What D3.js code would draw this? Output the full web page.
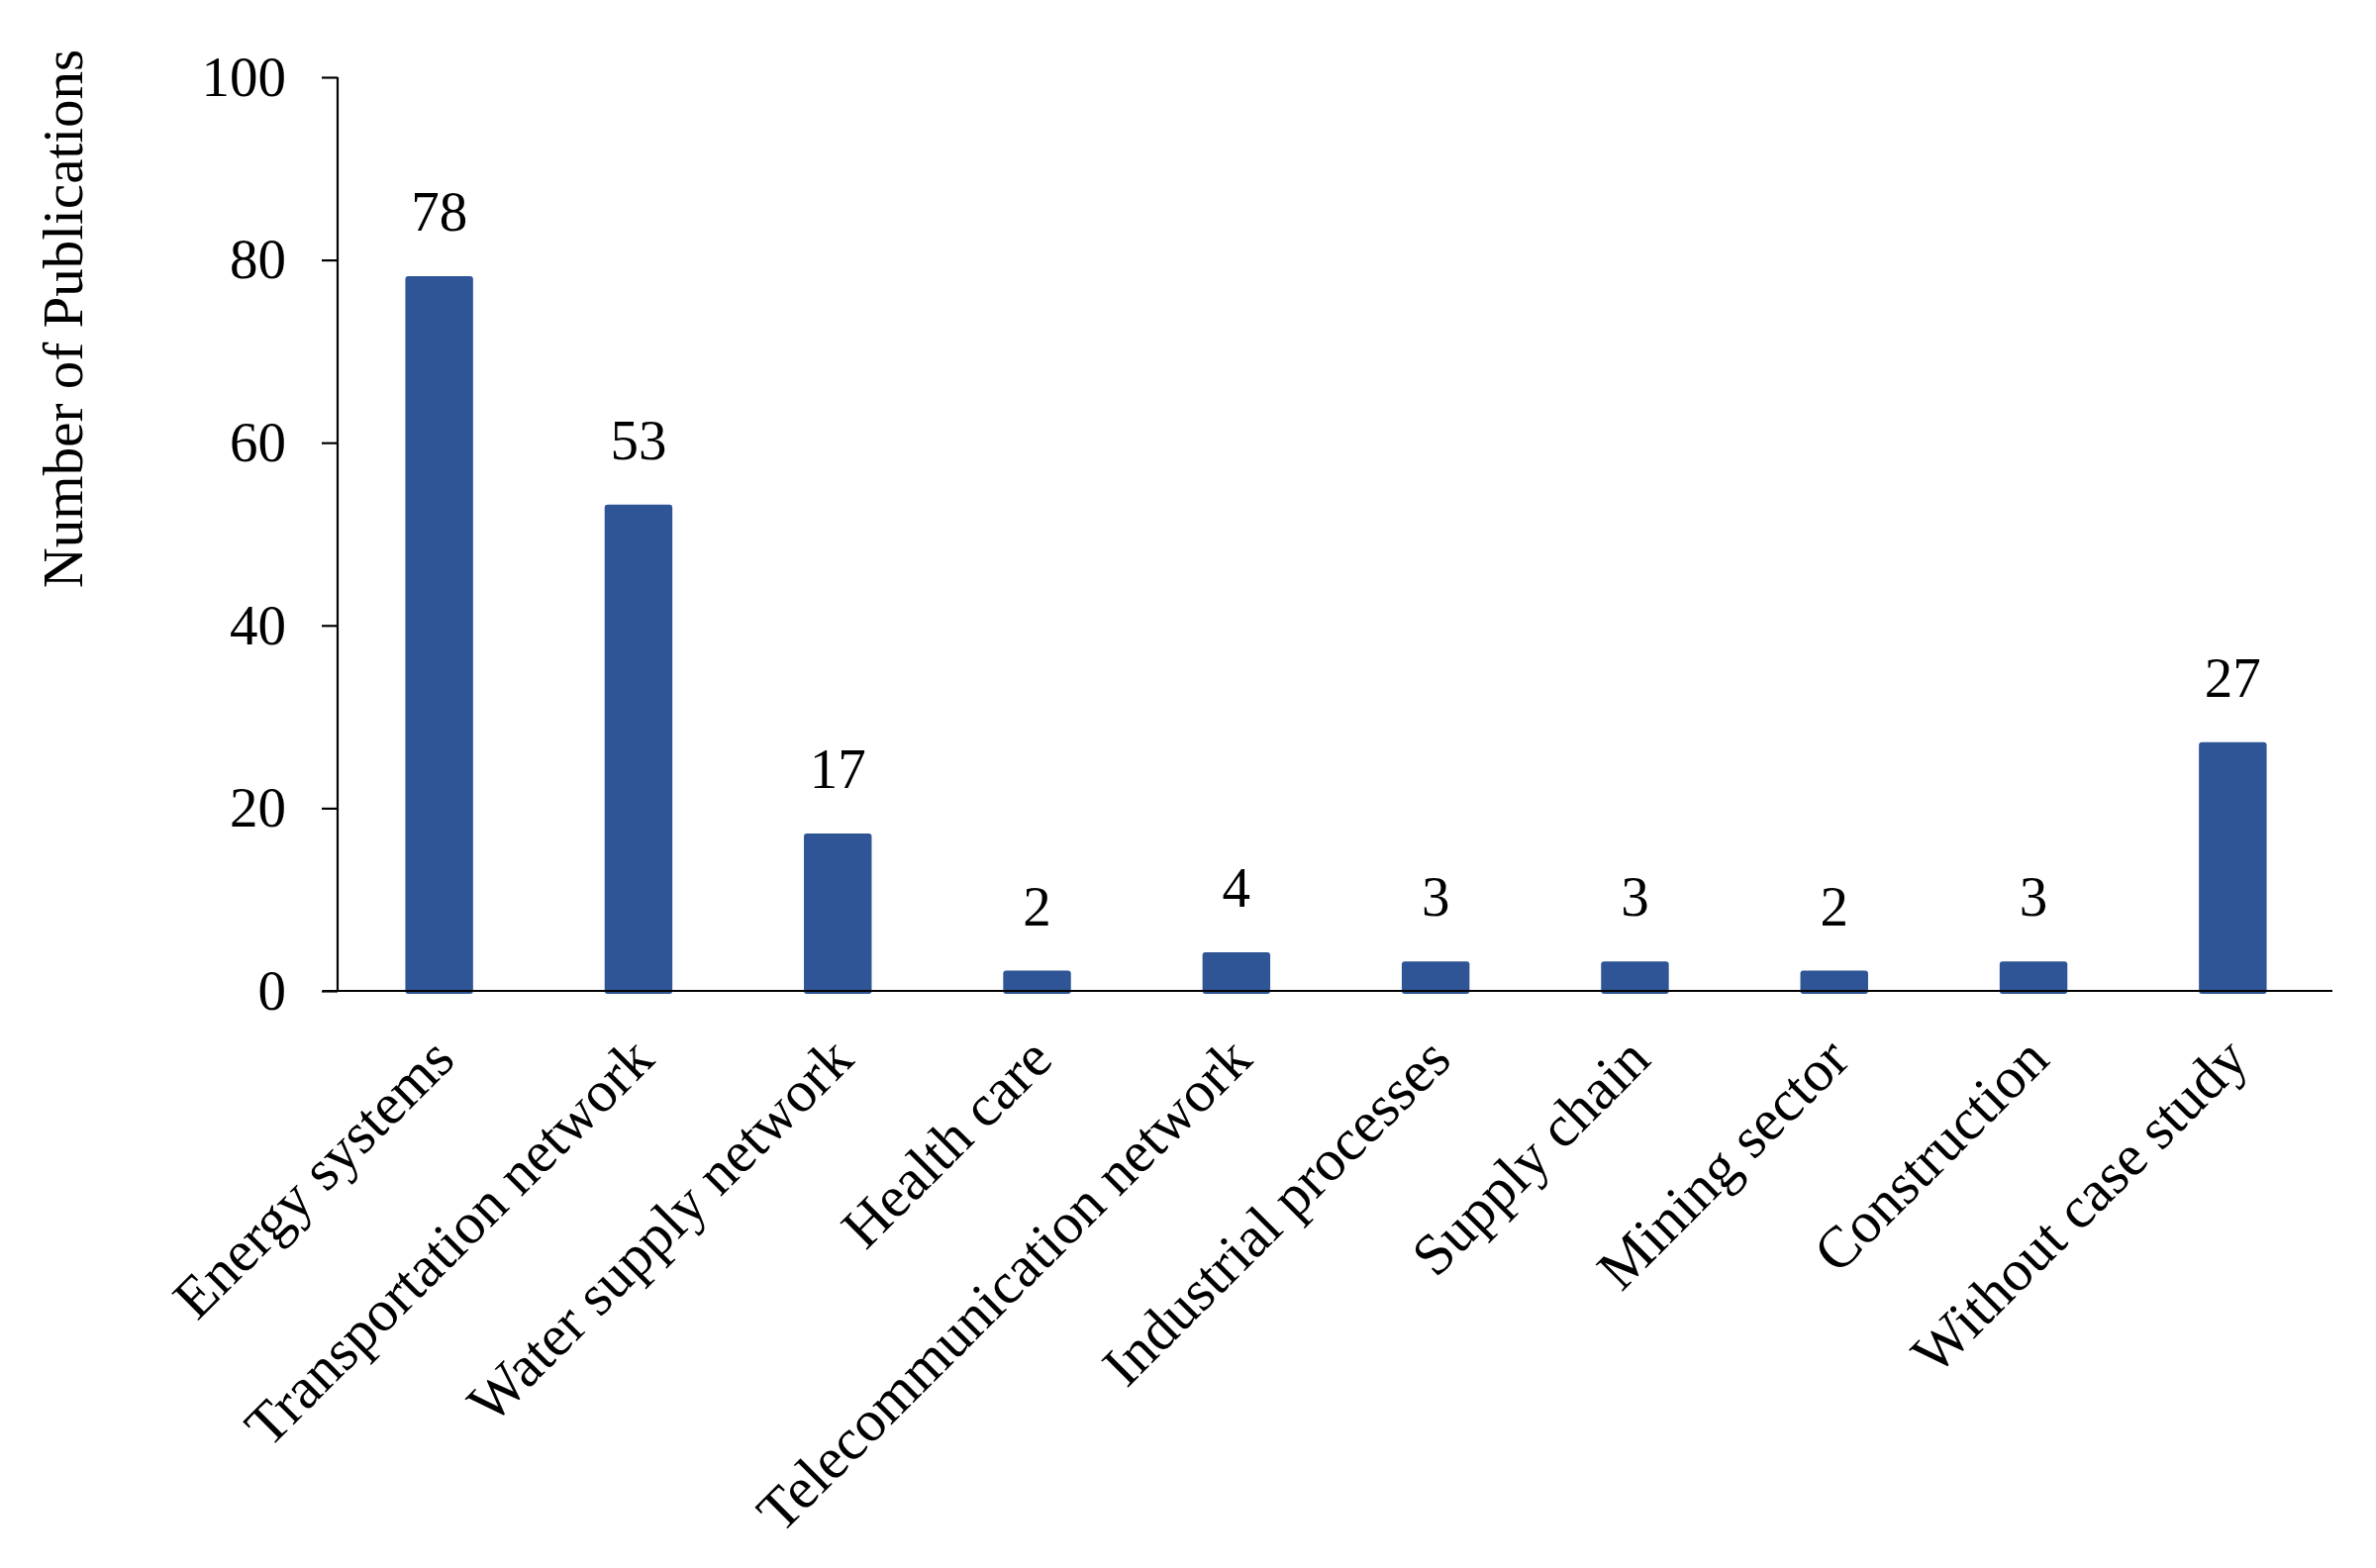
<!DOCTYPE html>
<html>
<head>
<meta charset="utf-8">
<script src="https://cdn.jsdelivr.net/npm/d3@7"></script>
<style>
  html, body { margin: 0; padding: 0; background: #fff; }
  svg text { font-family: "Liberation Serif", "Times New Roman", serif; fill: #000; }
</style>
</head>
<body>
<svg id="chart" width="2400" height="1584"></svg>
<script>
const categories = ["Energy systems", "Transportation network", "Water supply network", "Health care",
  "Telecommunication network", "Industrial processes", "Supply chain", "Mining sector",
  "Construction", "Without case study"];
const values = [78, 53, 17, 2, 4, 3, 3, 2, 3, 27];
const yTicks = [0, 20, 40, 60, 80, 100];
const yTitle = "Number of Publications";

const svg = d3.select("#chart");
const mLeft = 341, mRight = 2356, mTop = 78, mBottom = 1001;
const fs = 57, fsX = 59;

const x = d3.scaleBand().domain(categories).range([mLeft + 2, mRight]).paddingInner(0.66).paddingOuter(0.33);
const y = d3.scaleLinear().domain([0, 100]).range([mBottom, mTop]);

// Bars
svg.append("g").selectAll("rect").data(values).join("rect")
  .attr("x", (d, i) => x(categories[i]))
  .attr("y", d => y(d) - 2)
  .attr("width", x.bandwidth())
  .attr("height", d => y(0) - y(d) + 5)
  .attr("rx", 3).attr("ry", 3)
  .attr("fill", "#2F5597");

// Y axis
const yAxis = d3.axisLeft(y).tickValues(yTicks).tickSize(16).tickPadding(36).tickFormat(d3.format("d"));
const gy = svg.append("g").attr("transform", `translate(${mLeft},0)`).call(yAxis);
gy.select(".domain").attr("d", `M0,${mTop}V${mBottom}`).attr("stroke", "#000").attr("stroke-width", 2.2);
gy.selectAll(".tick line").attr("stroke", "#000").attr("stroke-width", 2.2);
gy.selectAll(".tick text").attr("font-size", fs).attr("font-family", "Liberation Serif").attr("fill", "#000");

// X axis baseline
const xAxis = d3.axisBottom(x).tickSize(0).tickPadding(0);
const gx = svg.append("g").attr("transform", `translate(0,${mBottom})`).call(xAxis);
gx.select(".domain").attr("d", `M${mLeft - 15},0H${mRight}`).attr("stroke", "#000").attr("stroke-width", 2.2);
gx.selectAll(".tick text")
  .attr("font-size", fsX).attr("font-family", "Liberation Serif").attr("fill", "#000")
  .attr("text-anchor", "end")
  .attr("dy", 0).attr("y", 0)
  .attr("transform", "translate(18,72) rotate(-45)");

// Value labels
svg.append("g").selectAll("text").data(values).join("text")
  .attr("x", (d, i) => x(categories[i]) + x.bandwidth() / 2)
  .attr("y", d => y(d) - 48)
  .attr("text-anchor", "middle")
  .attr("font-size", fs)
  .text(d => d);

// Y title
svg.append("text")
  .attr("transform", `translate(83,${(46 + 598) / 2}) rotate(-90)`)
  .attr("text-anchor", "middle")
  .attr("font-size", fs)
  .text(yTitle);
</script>
</body>
</html>
